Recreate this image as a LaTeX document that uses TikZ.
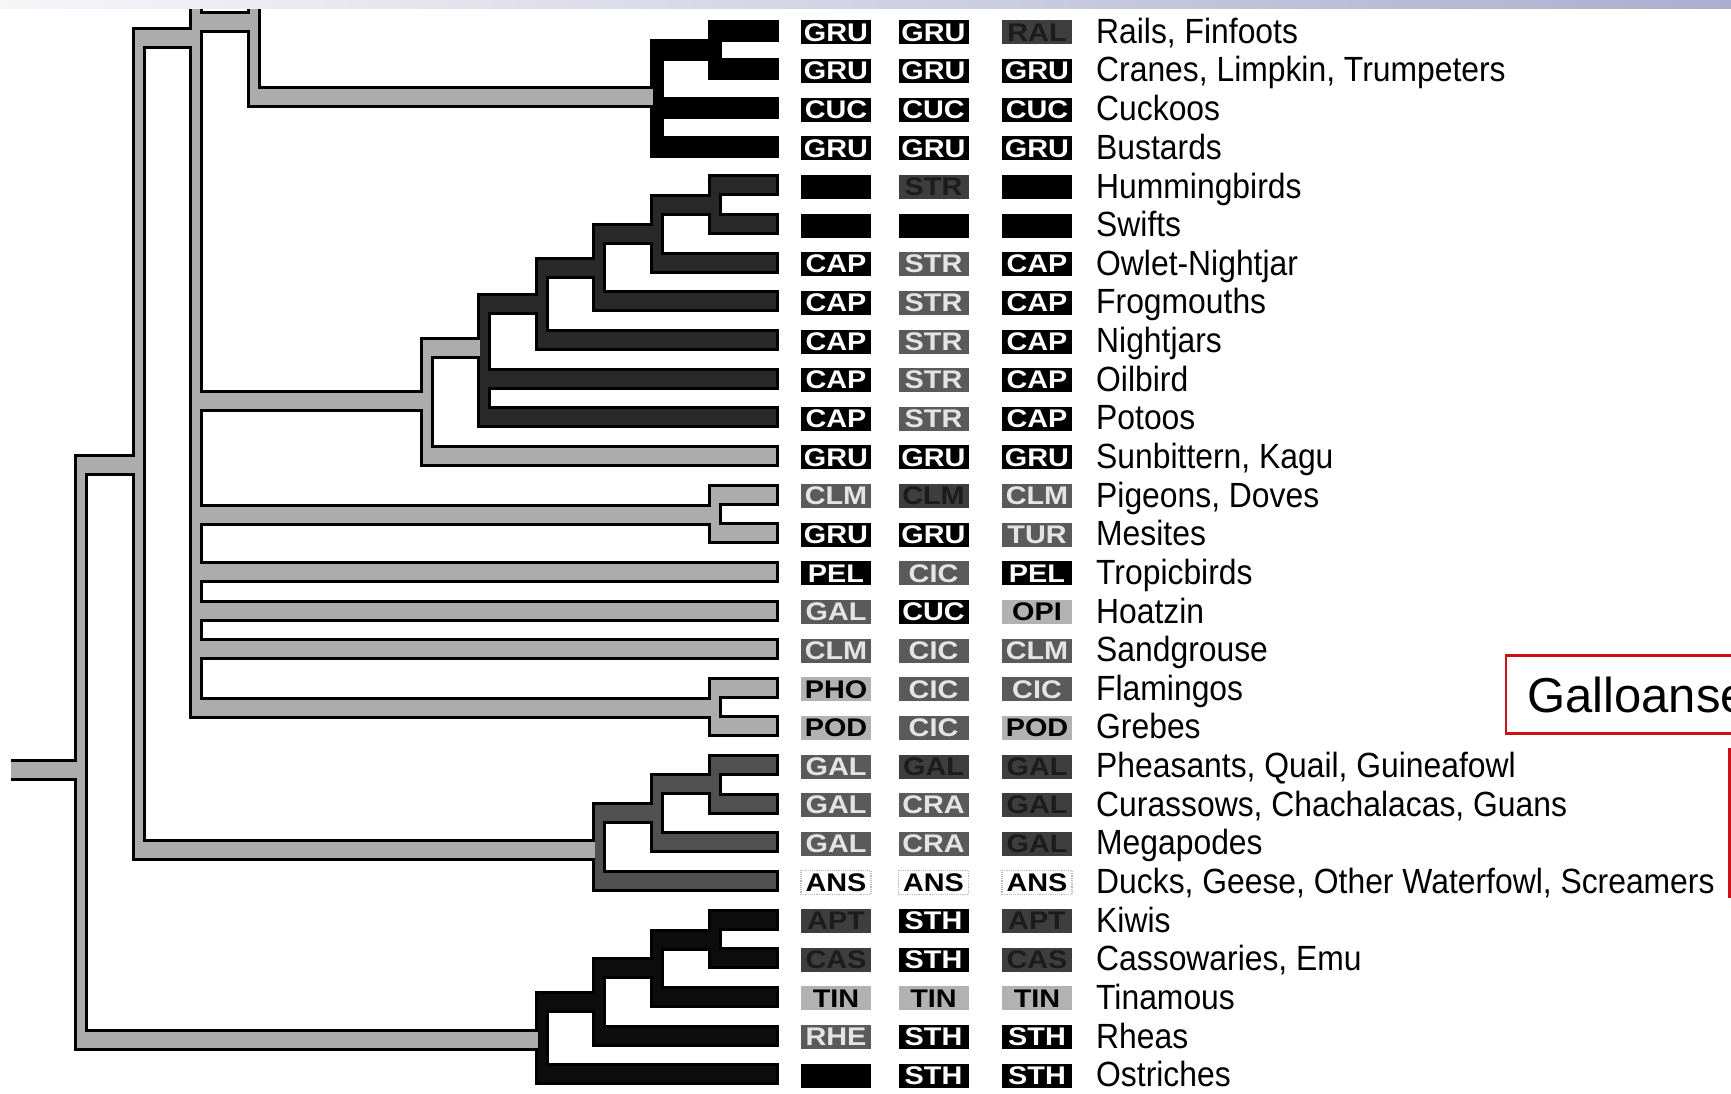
\documentclass[tikz,border=0pt]{standalone}
\usepackage{fontspec}
\setmainfont{Liberation Sans}
\definecolor{lg}{RGB}{172,172,172}
\definecolor{bk}{RGB}{0,0,0}
\definecolor{cp}{RGB}{40,40,40}
\definecolor{gd}{RGB}{80,80,80}
\definecolor{rt}{RGB}{12,12,12}
\definecolor{codeB}{RGB}{90,90,90}
\definecolor{codeBt}{RGB}{228,228,228}
\definecolor{codeC}{RGB}{62,62,62}
\definecolor{codeCt}{RGB}{28,28,28}
\definecolor{codeE}{RGB}{178,178,178}
\definecolor{redbox}{RGB}{204,16,24}
\definecolor{bandL}{RGB}{246,246,249}
\definecolor{bandR}{RGB}{172,174,206}
\newcommand\ctext[1]{\scalebox{1.13}[1]{\bfseries #1}}
\newcommand\ltext[1]{\scalebox{0.91}[1]{#1}}
\newcommand\treedata{%
% ---- light grey backbone
\tSt{lg}{11}{81}{770}
\tVb{lg}{81}{465}{1040}
\tAr{lg}{81}{138.6}{465}
\tAr{lg}{81}{541.8}{1040}
\tVb{lg}{138.6}{38}{850}
\tAr{lg}{138.6}{196.2}{38}
\tAr{lg}{138.6}{599.4}{850}
\tVb{lg}{196.2}{-40}{708}
\tAr{lg}{196.2}{253.8}{22}
\tAr{lg}{196.2}{426.6}{401}
\tAr{lg}{196.2}{714.6}{515}
\tLf{lg}{196.2}{571.9}
\tLf{lg}{196.2}{610.5}
\tLf{lg}{196.2}{649.1}
\tAr{lg}{196.2}{714.6}{708}
\tVb{lg}{253.8}{-40}{97}
\tAr{lg}{253.8}{657}{97}
\tVb{lg}{426.6}{348}{455.9}
\tAr{lg}{426.6}{484.2}{348}
\tLf{lg}{426.6}{455.9}
\tVb{lg}{714.6}{494.6}{533.2}
\tLf{lg}{714.6}{494.6}
\tLf{lg}{714.6}{533.2}
\tVb{lg}{714.6}{687.8}{726.4}
\tLf{lg}{714.6}{687.8}
\tLf{lg}{714.6}{726.4}
% ---- rails clade
\tVb{bk}{657}{50.2}{146.8}
\tAr{bk}{657}{714.6}{50.2}
\tVb{bk}{714.6}{30.9}{69.5}
\tLf{bk}{714.6}{30.9}
\tLf{bk}{714.6}{69.5}
\tLf{bk}{657}{108.2}
\tLf{bk}{657}{146.8}
% ---- caprimulgiform clade
\tVb{cp}{484.2}{303.7}{417.3}
\tAr{cp}{484.2}{541.8}{303.7}
\tLf{cp}{484.2}{378.7}
\tLf{cp}{484.2}{417.3}
\tVb{cp}{541.8}{267.5}{340.0}
\tAr{cp}{541.8}{599.4}{267.5}
\tLf{cp}{541.8}{340.0}
\tVb{cp}{599.4}{233.8}{301.4}
\tAr{cp}{599.4}{657}{233.8}
\tLf{cp}{599.4}{301.4}
\tVb{cp}{657}{204.8}{262.7}
\tAr{cp}{657}{714.6}{204.8}
\tLf{cp}{657}{262.7}
\tVb{cp}{714.6}{185.5}{224.1}
\tLf{cp}{714.6}{185.5}
\tLf{cp}{714.6}{224.1}
% ---- galloanserae
\tVb{gd}{599.4}{813.4}{881.0}
\tAr{gd}{599.4}{657}{813.4}
\tLf{gd}{599.4}{881.0}
\tVb{gd}{657}{784.4}{842.3}
\tAr{gd}{657}{714.6}{784.4}
\tLf{gd}{657}{842.3}
\tVb{gd}{714.6}{765.1}{803.7}
\tLf{gd}{714.6}{765.1}
\tLf{gd}{714.6}{803.7}
% ---- ratites
\tVb{rt}{541.8}{1002}{1074.2}
\tAr{rt}{541.8}{599.4}{1002}
\tLf{rt}{541.8}{1074.2}
\tVb{rt}{599.4}{968.4}{1035.5}
\tAr{rt}{599.4}{657}{968.4}
\tLf{rt}{599.4}{1035.5}
\tVb{rt}{657}{939.9}{996.9}
\tAr{rt}{657}{714.6}{939.9}
\tLf{rt}{657}{996.9}
\tVb{rt}{714.6}{919.6}{958.3}
\tLf{rt}{714.6}{919.6}
\tLf{rt}{714.6}{958.3}
}
\newcommand\trow[9]{%
 \node[cbox,#3] (c#1a) at (836,{#2+1.5}) {\ctext{#4}};
 \node[cbox,#5] (c#1b) at (933.5,{#2+1.5}) {\ctext{#6}};
 \node[cbox,#7] (c#1c) at (1037,{#2+1.5}) {\ctext{#8}};
 \node[lab] (t#1) at (1096,{#2+12.5}) {\ltext{#9}};
}
\begin{document}
\begin{tikzpicture}[x=1pt,y=-1pt,
  cbox/.style={minimum width=70pt,minimum height=24pt,inner sep=0pt,
    font=\fontsize{25.5}{25.5}\selectfont},
  bxA/.style={fill=black,text=white},
  bxB/.style={fill=codeB,text=codeBt},
  bxC/.style={fill=codeC,text=codeCt},
  bxD/.style={fill=black},
  bxE/.style={fill=codeE,text=black},
  bxF/.style={fill=white,draw=gray!55,densely dotted,line width=1.2pt,text=black},
  lab/.style={anchor=base west,inner sep=0pt,font=\fontsize{35}{35}\selectfont}]
\useasboundingbox (0,0) rectangle (1731,1094);
\clip (0,0) rectangle (1731,1094);
\fill[white] (0,0) rectangle (1731,1094);
% pass 1: outlines
\def\tVb#1#2#3#4{\fill[black] ({#2-7},{#3-11}) rectangle ({#2+7},{#4+11});}
\def\tAr#1#2#3#4{\fill[black] ({#2-7},{#4-11}) rectangle ({#3+7},{#4+11});}
\def\tLf#1#2#3{\fill[black] ({#2-7},{#3-11}) rectangle (779,{#3+11});}
\def\tSt#1#2#3#4{\fill[black] (#2,{#4-11}) rectangle (#3,{#4+11});}
\treedata
% pass 2: fills
\def\tVb#1#2#3#4{\fill[#1] ({#2-4},{#3-8}) rectangle ({#2+4},{#4+8});}
\def\tAr#1#2#3#4{\fill[#1] ({#2-4},{#4-8}) rectangle ({#3},{#4+8});}
\def\tLf#1#2#3{\fill[#1] ({#2-4},{#3-8}) rectangle (776,{#3+8});}
\def\tSt#1#2#3#4{\fill[#1] (#2,{#4-8}) rectangle (#3,{#4+8});}
\treedata
% code boxes and labels
\trow{1}{30.9}{bxA}{GRU}{bxA}{GRU}{bxC}{RAL}{Rails, Finfoots}
\trow{2}{69.5}{bxA}{GRU}{bxA}{GRU}{bxA}{GRU}{Cranes, Limpkin, Trumpeters}
\trow{3}{108.2}{bxA}{CUC}{bxA}{CUC}{bxA}{CUC}{Cuckoos}
\trow{4}{146.8}{bxA}{GRU}{bxA}{GRU}{bxA}{GRU}{Bustards}
\trow{5}{185.5}{bxD}{}{bxC}{STR}{bxD}{}{Hummingbirds}
\trow{6}{224.1}{bxD}{}{bxD}{}{bxD}{}{Swifts}
\trow{7}{262.7}{bxA}{CAP}{bxB}{STR}{bxA}{CAP}{Owlet-Nightjar}
\trow{8}{301.4}{bxA}{CAP}{bxB}{STR}{bxA}{CAP}{Frogmouths}
\trow{9}{340.0}{bxA}{CAP}{bxB}{STR}{bxA}{CAP}{Nightjars}
\trow{10}{378.7}{bxA}{CAP}{bxB}{STR}{bxA}{CAP}{Oilbird}
\trow{11}{417.3}{bxA}{CAP}{bxB}{STR}{bxA}{CAP}{Potoos}
\trow{12}{455.9}{bxA}{GRU}{bxA}{GRU}{bxA}{GRU}{Sunbittern, Kagu}
\trow{13}{494.6}{bxB}{CLM}{bxC}{CLM}{bxB}{CLM}{Pigeons, Doves}
\trow{14}{533.2}{bxA}{GRU}{bxA}{GRU}{bxB}{TUR}{Mesites}
\trow{15}{571.9}{bxA}{PEL}{bxB}{CIC}{bxA}{PEL}{Tropicbirds}
\trow{16}{610.5}{bxB}{GAL}{bxA}{CUC}{bxE}{OPI}{Hoatzin}
\trow{17}{649.1}{bxB}{CLM}{bxB}{CIC}{bxB}{CLM}{Sandgrouse}
\trow{18}{687.8}{bxE}{PHO}{bxB}{CIC}{bxB}{CIC}{Flamingos}
\trow{19}{726.4}{bxE}{POD}{bxB}{CIC}{bxE}{POD}{Grebes}
\trow{20}{765.1}{bxB}{GAL}{bxC}{GAL}{bxC}{GAL}{Pheasants, Quail, Guineafowl}
\trow{21}{803.7}{bxB}{GAL}{bxB}{CRA}{bxC}{GAL}{Curassows, Chachalacas, Guans}
\trow{22}{842.3}{bxB}{GAL}{bxB}{CRA}{bxC}{GAL}{Megapodes}
\trow{23}{881.0}{bxF}{ANS}{bxF}{ANS}{bxF}{ANS}{Ducks, Geese, Other Waterfowl, Screamers}
\trow{24}{919.6}{bxC}{APT}{bxA}{STH}{bxC}{APT}{Kiwis}
\trow{25}{958.3}{bxC}{CAS}{bxA}{STH}{bxC}{CAS}{Cassowaries, Emu}
\trow{26}{996.9}{bxE}{TIN}{bxE}{TIN}{bxE}{TIN}{Tinamous}
\trow{27}{1035.5}{bxB}{RHE}{bxA}{STH}{bxA}{STH}{Rheas}
\trow{28}{1074.2}{bxD}{}{bxA}{STH}{bxA}{STH}{Ostriches}
% red annotation
\draw[redbox,line width=2.5pt] (1506,655.5) rectangle (1760,733.5);
\node[anchor=base west,inner sep=0pt,font=\fontsize{49}{49}\selectfont] (gal) at (1527,712) {Galloanse};
\coordinate (ra) at (1729.5,748);
\coordinate (rb) at (1729.5,898);
\draw[redbox,line width=2.5pt] (ra) -- (rb);
% top band
\shade[left color=bandL,right color=bandR] (0,0) rectangle (1731,8.5);
\end{tikzpicture}
\end{document}
